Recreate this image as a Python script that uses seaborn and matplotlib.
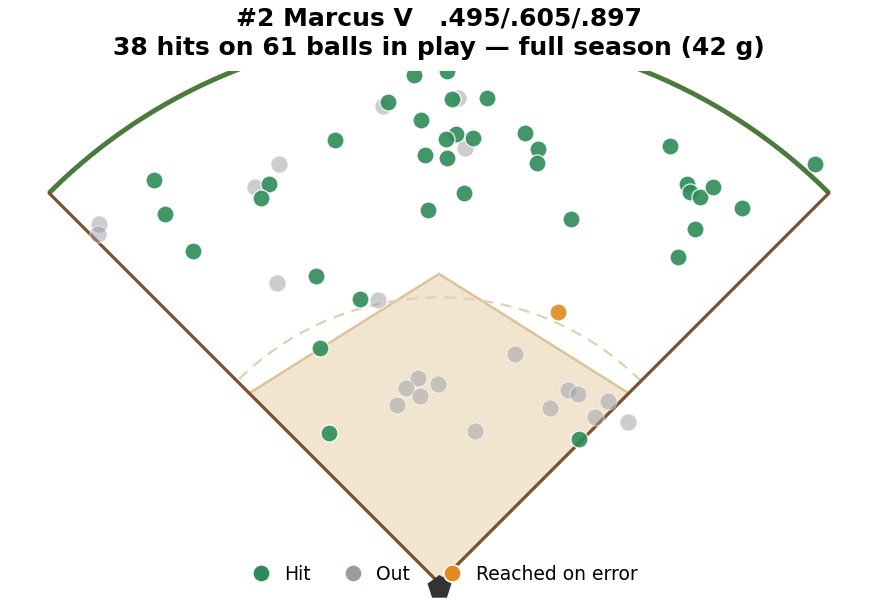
import numpy as np
import pandas as pd
import matplotlib
matplotlib.use("Agg")
import matplotlib.pyplot as plt
from matplotlib.patches import Polygon
from matplotlib.lines import Line2D
import seaborn as sns

sns.set_theme(style="white")
plt.rcParams['font.family'] = ['DejaVu Sans']
plt.rcParams['text.color'] = 'black'

# ---- data (feet from home plate; x toward 1B positive) ----
hit_x = [-8.4, 2.7, -17.0, 4.3, 16.2, -5.9, -34.8, 5.6, 2.2, 11.5, 28.9, 33.3, 33.0,
         -4.6, 2.6, 8.5, -3.6, -95.5, -91.8, -56.9, -59.6, -82.4, -41.2, -26.4, -39.8,
         -36.8, 47.1, 44.3, 77.5, 126.2, 83.1, 84.2, 87.7, 92.0, 101.7, 86.0, 80.3, -3.0]
hit_y = [170.4, 171.6, 161.3, 162.4, 162.6, 155.3, 148.6, 150.5, 148.9, 149.2, 150.9,
         145.6, 140.8, 143.5, 142.5, 130.7, 125.1, 135.2, 123.8, 133.7, 129.1, 111.4,
         103.0, 95.2, 78.7, 50.2, 48.2, 122.1, 146.6, 140.5, 133.8, 131.3, 129.4, 132.7,
         125.7, 118.7, 109.4, 178.0]
out_x = [-18.9, 6.5, 8.8, -53.6, -61.6, -114.0, -114.4, -54.2, -20.4, 25.6, -7.0, -11.0,
         -6.4, -0.2, -14.0, 12.1, 43.3, 46.6, 37.2, 56.8, 52.4, 63.4]
out_y = [160.0, 162.6, 145.8, 140.5, 132.7, 120.3, 117.0, 100.5, 94.9, 76.7, 68.7, 65.4,
         62.7, 66.7, 59.6, 50.9, 64.6, 63.3, 58.6, 61.2, 55.6, 53.9]
err_x = [40.0]
err_y = [90.8]

categories = ["Hit", "Out", "Reached on error"]
title_lines = ["#2 Marcus V   .495/.605/.897",
               "38 hits on 61 balls in play \u2014 full season (42 g)"]

colors = {"Hit": "#2e8b57", "Out": "#9a9ca4", "Reached on error": "#e08a20"}
alphas = {"Hit": 0.9, "Out": 0.5, "Reached on error": 0.9}

df = pd.concat([
    pd.DataFrame({"x": out_x, "y": out_y, "result": "Out"}),
    pd.DataFrame({"x": hit_x, "y": hit_y, "result": "Hit"}),
    pd.DataFrame({"x": err_x, "y": err_y, "result": "Reached on error"}),
], ignore_index=True)

# ---- field geometry ----
FENCE_R = 185.0
BASE = 90.0
INF_TOP = 103.7
GRASS_R = 95.8

W, H = 878, 604
fig = plt.figure(figsize=(W / 100, H / 100), dpi=100)
s = 2.981  # px per foot
home_px = (439, 583)
ax_top_px = 71
ax = fig.add_axes([0, 0, 1, (H - ax_top_px) / H])
ax.set_xlim(-home_px[0] / s, (W - home_px[0]) / s)
ax.set_ylim(-(H - home_px[1]) / s, (home_px[1] - ax_top_px) / s)
ax.axis("off")

d = BASE / np.sqrt(2)
infield = Polygon([(0, 0), (d, d), (0, INF_TOP), (-d, d)], closed=True,
                  facecolor="#f2e5cf", edgecolor="#dcc39a", lw=1.8, zorder=1)
ax.add_patch(infield)

t = np.linspace(np.pi / 4, 3 * np.pi / 4, 200)
ax.plot(GRASS_R * np.cos(t), GRASS_R * np.sin(t), ls=(0, (5, 3.5)), color="#ddd2b6",
        lw=1.6, zorder=2)
ax.plot(FENCE_R * np.cos(t), FENCE_R * np.sin(t), color="#4b7a3f", lw=3.5, zorder=2,
        solid_capstyle="butt")
fl = FENCE_R / np.sqrt(2)
ax.plot([-fl, 0, fl], [fl, 0, fl], color="#7a5230", lw=2.3, zorder=2)
ax.scatter([0], [-1.4], marker="p", s=330, color="#333333", zorder=6, linewidths=0)

for cat in ["Out", "Hit", "Reached on error"]:
    sub = df[df["result"] == cat]
    sns.scatterplot(data=sub, x="x", y="y", ax=ax, color=colors[cat], alpha=alphas[cat],
                    s=150, edgecolor="white", linewidth=0.9, legend=False, zorder=5)
ax.set_xlabel("")
ax.set_ylabel("")

handles = [Line2D([], [], ls="", marker="o", ms=12.5, markerfacecolor=colors[c],
                  markeredgecolor="white", markeredgewidth=1.2, label=c)
           for c in categories]
leg = fig.legend(handles=handles, loc="center",
                 bbox_to_anchor=(0.5 + 5.5 / W, (H - 574.5) / H),
                 ncol=3, frameon=False, fontsize=13.5, handlelength=1.0,
                 handletextpad=0.75, columnspacing=1.75, labelcolor="black")

fig.text(0.5, 1 - 7 / H, "\n".join(title_lines), ha="center", va="top", color="black",
         fontsize=18, fontweight="bold", linespacing=1.25)

fig.savefig("out.png", dpi=100)
